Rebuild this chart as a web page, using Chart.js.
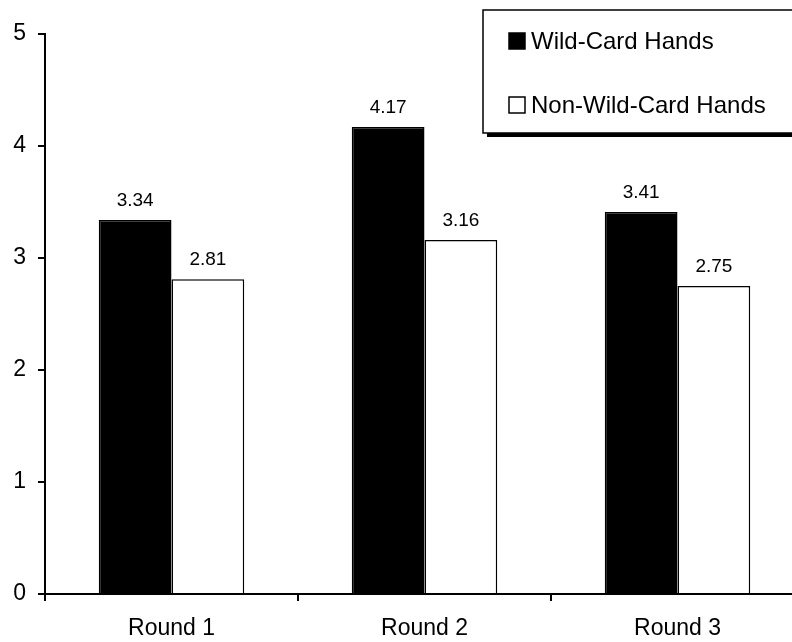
<!DOCTYPE html>
<html>
<head>
<meta charset="utf-8">
<script src="https://cdn.jsdelivr.net/npm/chart.js@4.4.1/dist/chart.umd.min.js"></script>
<style>
  html, body { margin: 0; padding: 0; background: #fff; overflow: hidden; }
  #wrap { width: 810px; height: 642px; }
</style>
</head>
<body>
<div id="wrap"><canvas id="grafico" width="810" height="642"></canvas></div>
<script>
const rondas = ['Round 1', 'Round 2', 'Round 3'];
const manosComodin = [3.34, 4.17, 3.41];
const manosSinComodin = [2.81, 3.16, 2.75];
const ticksY = [0, 1, 2, 3, 4, 5];

const FUENTE = 'Liberation Sans, Arial, sans-serif';

// etiquetas de valor encima de cada barra
const etiquetasValor = {
    id: 'etiquetasValor',
    afterDatasetsDraw(chart) {
        const ctx = chart.ctx;
        ctx.save();
        ctx.font = `19px ${FUENTE}`;
        ctx.fillStyle = '#000';
        ctx.textAlign = 'center';
        ctx.textBaseline = 'bottom';
        chart.data.datasets.forEach((ds, i) => {
            chart.getDatasetMeta(i).data.forEach((bar, j) => {
                ctx.fillText(ds.data[j].toFixed(2), bar.x, bar.y - 10);
            });
        });
        ctx.restore();
    }
};

// leyenda con caja y sombra, como en el original
const leyendaCaja = {
    id: 'leyendaCaja',
    afterDraw(chart) {
        const ctx = chart.ctx;
        const x = 483, y = 10, w = 330, h = 123;
        ctx.save();
        ctx.fillStyle = '#000';
        ctx.fillRect(x + 4, y + 4, w, h);
        ctx.fillStyle = '#fff';
        ctx.fillRect(x, y, w, h);
        ctx.strokeStyle = '#000';
        ctx.lineWidth = 1.5;
        ctx.strokeRect(x, y, w, h);
        ctx.font = `24px ${FUENTE}`;
        ctx.textBaseline = 'middle';
        const filas = [41, 105];
        chart.data.datasets.forEach((ds, i) => {
            const cy = filas[i];
            ctx.fillStyle = ds.backgroundColor;
            ctx.fillRect(509, cy - 8, 16, 16);
            ctx.lineWidth = 1.5;
            ctx.strokeStyle = '#000';
            ctx.strokeRect(509, cy - 8, 16, 16);
            ctx.fillStyle = '#000';
            ctx.fillText(ds.label, 531, cy + 1);
        });
        ctx.restore();
    }
};

new Chart(document.getElementById('grafico').getContext('2d'), {
    type: 'bar',
    data: {
        labels: rondas,
        datasets: [
            { label: 'Wild-Card Hands', data: manosComodin, backgroundColor: '#000', borderColor: '#000', borderWidth: 1.5 },
            { label: 'Non-Wild-Card Hands', data: manosSinComodin, backgroundColor: '#fff', borderColor: '#000', borderWidth: 1.5 }
        ]
    },
    options: {
        responsive: false,
        animation: false,
        layout: { padding: { top: 34, right: 6, left: 0, bottom: 0 } },
        datasets: { bar: { barPercentage: 1, categoryPercentage: 0.575 } },
        plugins: { legend: { display: false }, tooltip: { enabled: false } },
        scales: {
            x: {
                offset: true,
                grid: { offset: true, drawOnChartArea: false, drawTicks: true, tickLength: 7, color: '#000', lineWidth: 2 },
                border: { display: true, color: '#000', width: 2 },
                ticks: { color: '#000', font: { size: 23, family: FUENTE }, padding: 14 },
                afterFit(scale) { scale.height = 48; }
            },
            y: {
                min: 0,
                max: 5,
                afterBuildTicks(scale) { scale.ticks = ticksY.map(v => ({ value: v })); },
                grid: { drawOnChartArea: false, drawTicks: true, tickLength: 7, color: '#000', lineWidth: 2 },
                border: { display: true, color: '#000', width: 2 },
                ticks: { color: '#000', font: { size: 23, family: FUENTE }, padding: 12 },
                afterFit(scale) { scale.width = 45; }
            }
        }
    },
    plugins: [etiquetasValor, leyendaCaja]
});
</script>
</body>
</html>
